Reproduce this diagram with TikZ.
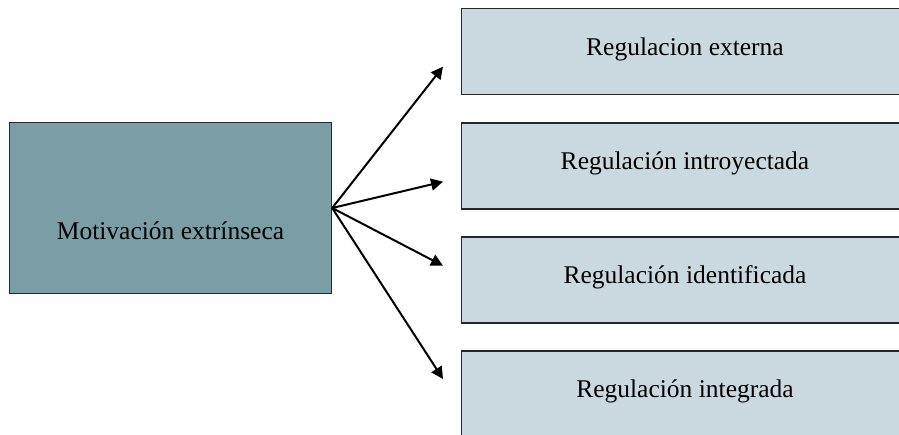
\documentclass[tikz,border=0pt]{standalone}
\usepackage{fontspec}
\setmainfont{Liberation Serif}
\usetikzlibrary{arrows.meta}
\definecolor{darkbox}{RGB}{122,157,166}
\definecolor{lightbox}{RGB}{202,217,224}
\definecolor{edge}{RGB}{40,40,40}
\begin{document}
\begin{tikzpicture}[x=1pt,y=-1pt,
  mainbox/.style={draw=edge,line width=1.4pt,fill=darkbox,rectangle,inner sep=0pt,minimum width=322pt,minimum height=171pt},
  subbox/.style={draw=edge,line width=1.4pt,fill=lightbox,rectangle,inner sep=0pt,minimum width=500pt,minimum height=86pt},
  lbl/.style={anchor=base,inner sep=0pt,font=\fontsize{25.5}{30}\selectfont},
  arr/.style={line width=2pt,-{Triangle[length=12pt,width=12pt]}}]
\useasboundingbox (0,0) rectangle (899,434);
\node[mainbox] (m) at (170.5,208) {};
\node[subbox] (r1) at (711.5,51.5) {};
\node[subbox] (r2) at (711.5,166) {};
\node[subbox] (r3) at (711.5,280) {};
\node[subbox] (r4) at (711.5,394) {};
\node[lbl] (tm) at (170.5,239.3) {Motivación extrínseca};
\node[lbl] (t1) at (685,55) {Regulacion externa};
\node[lbl] (t2) at (685,169) {Regulación introyectada};
\node[lbl] (t3) at (685,283) {Regulación identificada};
\node[lbl] (t4) at (685,397) {Regulación integrada};
\coordinate (e1) at (443,66.7);
\coordinate (e2) at (443,181.7);
\coordinate (e3) at (443,265.7);
\coordinate (e4) at (443,379);
\draw[arr] (m.east) -- (e1);
\draw[arr] (m.east) -- (e2);
\draw[arr] (m.east) -- (e3);
\draw[arr] (m.east) -- (e4);
\end{tikzpicture}
\end{document}
